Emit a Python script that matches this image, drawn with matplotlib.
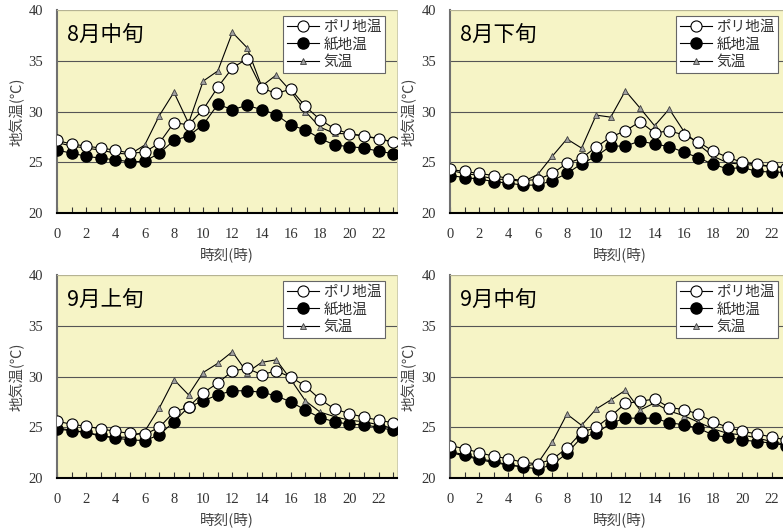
import matplotlib.pyplot as plt

plt.rcParams['font.family'] = ['Noto Sans CJK JP', 'DejaVu Sans']

hours = list(range(24))

# 8月中旬
poly_aug_mid = [27.15, 26.8, 26.6, 26.4, 26.2, 25.9, 26.0, 26.9, 28.9, 28.7, 30.2, 32.4,
                34.3, 35.2, 32.3, 31.8, 32.2, 30.5, 29.2, 28.3, 27.8, 27.6, 27.3, 27.0]
paper_aug_mid = [26.2, 25.9, 25.6, 25.4, 25.25, 25.05, 25.1, 25.9, 27.15, 27.6, 28.7, 30.7,
                 30.2, 30.6, 30.2, 29.7, 28.65, 28.2, 27.35, 26.7, 26.55, 26.4, 26.1, 25.85]
air_aug_mid = [26.95, 26.6, 26.4, 26.2, 25.9, 25.8, 26.7, 29.6, 31.9, 28.85, 33.0, 34.0,
               37.8, 36.3, 32.5, 33.6, 32.0, 30.0, 28.45, 27.85, 27.8, 27.6, 27.35, 27.0]

# 8月下旬
poly_aug_late = [24.3, 24.1, 23.9, 23.7, 23.4, 23.2, 23.3, 23.9, 24.9, 25.4, 26.5, 27.5,
                 28.1, 29.0, 27.9, 28.1, 27.7, 27.0, 26.1, 25.5, 25.0, 24.8, 24.6, 24.45]
paper_aug_late = [23.7, 23.5, 23.35, 23.1, 22.95, 22.75, 22.75, 23.2, 23.9, 24.85, 25.6, 26.6,
                  26.6, 27.1, 26.8, 26.55, 26.0, 25.45, 24.8, 24.35, 24.5, 24.1, 24.05, 24.0]
air_aug_late = [24.2, 23.9, 23.7, 23.35, 23.3, 23.1, 23.8, 25.6, 27.3, 26.4, 29.65, 29.45,
                32.05, 30.35, 28.6, 30.25, 28.05, 26.75, 25.6, 24.95, 24.8, 24.7, 24.6, 24.5]

# 9月上旬
poly_sep_early = [25.6, 25.3, 25.1, 24.85, 24.6, 24.4, 24.3, 25.0, 26.5, 27.0, 28.4, 29.35,
                  30.55, 30.8, 30.2, 30.55, 29.95, 29.05, 27.75, 26.8, 26.35, 26.0, 25.7, 25.45]
paper_sep_early = [24.85, 24.65, 24.5, 24.2, 23.95, 23.75, 23.7, 24.25, 25.55, 27.0, 27.6, 28.2,
                   28.6, 28.6, 28.45, 28.1, 27.5, 26.7, 25.95, 25.55, 25.3, 25.25, 25.0, 24.7]
air_sep_early = [24.95, 24.7, 24.5, 24.1, 24.0, 24.05, 24.6, 26.9, 29.7, 28.2, 30.4, 31.3,
                 32.45, 30.4, 31.4, 31.65, 29.7, 27.6, 26.5, 26.05, 25.7, 25.55, 25.25, 24.9]

# 9月中旬
poly_sep_mid = [23.2, 22.9, 22.5, 22.15, 21.9, 21.55, 21.4, 21.85, 22.95, 24.5, 25.0, 26.1,
                27.35, 27.55, 27.8, 26.95, 26.75, 26.3, 25.55, 25.0, 24.6, 24.35, 24.05, 23.75]
paper_sep_mid = [22.6, 22.3, 21.9, 21.65, 21.3, 21.1, 20.9, 21.3, 22.45, 24.0, 24.4, 25.4,
                 25.9, 25.9, 25.9, 25.45, 25.25, 24.9, 24.25, 24.0, 23.75, 23.6, 23.45, 23.2]
air_sep_mid = [22.55, 22.15, 21.85, 21.5, 21.3, 21.1, 21.45, 23.55, 26.3, 25.2, 26.8, 27.7,
               28.65, 26.7, 27.4, 26.6, 26.15, 25.5, 24.85, 24.4, 24.25, 23.95, 23.6, 23.3]

titles = ["8月中旬", "8月下旬", "9月上旬", "9月中旬"]
series = [
    (poly_aug_mid, paper_aug_mid, air_aug_mid),
    (poly_aug_late, paper_aug_late, air_aug_late),
    (poly_sep_early, paper_sep_early, air_sep_early),
    (poly_sep_mid, paper_sep_mid, air_sep_mid),
]
legend_labels = ["ポリ地温", "紙地温", "気温"]

fig = plt.figure(figsize=(7.83, 5.30), dpi=100)

# axes boxes in figure fractions (right column runs past the image edge)
boxes = [
    (0.0728, 0.598, 0.434, 0.383),
    (0.5747, 0.598, 0.434, 0.383),
    (0.0728, 0.098, 0.434, 0.383),
    (0.5747, 0.098, 0.434, 0.383),
]

serif = ['Liberation Serif', 'DejaVu Serif']

for box, title, (poly, paper, air) in zip(boxes, titles, series):
    ax = fig.add_axes(box)
    ax.set_facecolor('#f6f4c6')

    ax.plot(hours, air, color='black', lw=0.8, marker='^', ms=5,
            mfc='#a0a0a0', mec='#404040', mew=0.6, label=legend_labels[2], zorder=3)
    ax.plot(hours, paper, color='black', lw=0.8, marker='o', ms=8,
            mfc='black', mec='black', label=legend_labels[1], zorder=4)
    ax.plot(hours, poly, color='black', lw=0.8, marker='o', ms=8,
            mfc='white', mec='black', mew=0.8, label=legend_labels[0], zorder=5)

    ax.set_xlim(0, 23.25)
    ax.set_ylim(20, 40)
    ax.set_yticks([20, 25, 30, 35, 40])
    ax.set_xticks(range(0, 23, 2))
    ax.set_xticks(hours, minor=True)
    ax.tick_params(axis='x', which='both', direction='in', length=4, width=0.8,
                   pad=11, colors='#333333', labelsize=10.5)
    ax.tick_params(axis='y', length=0, pad=10, colors='#333333', labelsize=10.5)
    for lab in ax.get_xticklabels() + ax.get_yticklabels():
        lab.set_fontfamily(serif)
        lab.set_color('#333333')

    ax.grid(axis='y', color='#555555', lw=0.8)
    ax.set_axisbelow(True)

    ax.spines['left'].set_color('#707070')
    ax.spines['left'].set_linewidth(1.5)
    ax.spines['bottom'].set_color('black')
    ax.spines['bottom'].set_linewidth(1.5)
    ax.spines['top'].set_color('#c8c6a0')
    ax.spines['top'].set_linewidth(0.6)
    ax.spines['right'].set_color('#c8c6a0')
    ax.spines['right'].set_linewidth(0.6)

    ax.set_ylabel("地気温(℃)", fontsize=10.5, color='#444444', labelpad=3)
    ax.set_xlabel("時刻(時)", fontsize=10.5, color='#444444', labelpad=4)

    ax.text(0.03, 0.88, title, transform=ax.transAxes, fontsize=15.5,
            ha='left', va='center', color='black')

    handles, labels = ax.get_legend_handles_labels()
    leg = ax.legend(handles[::-1], labels[::-1], loc='upper right',
                    bbox_to_anchor=(0.975, 0.985), fontsize=10.5, frameon=True,
                    fancybox=False, framealpha=1, edgecolor='#666666',
                    handlelength=2.2, handletextpad=0.3, borderpad=0.25,
                    labelspacing=0.25, borderaxespad=0.2)
    leg.get_frame().set_linewidth(0.8)
    for t in leg.get_texts():
        t.set_color('#333333')

fig.savefig("out.png", dpi=100)
